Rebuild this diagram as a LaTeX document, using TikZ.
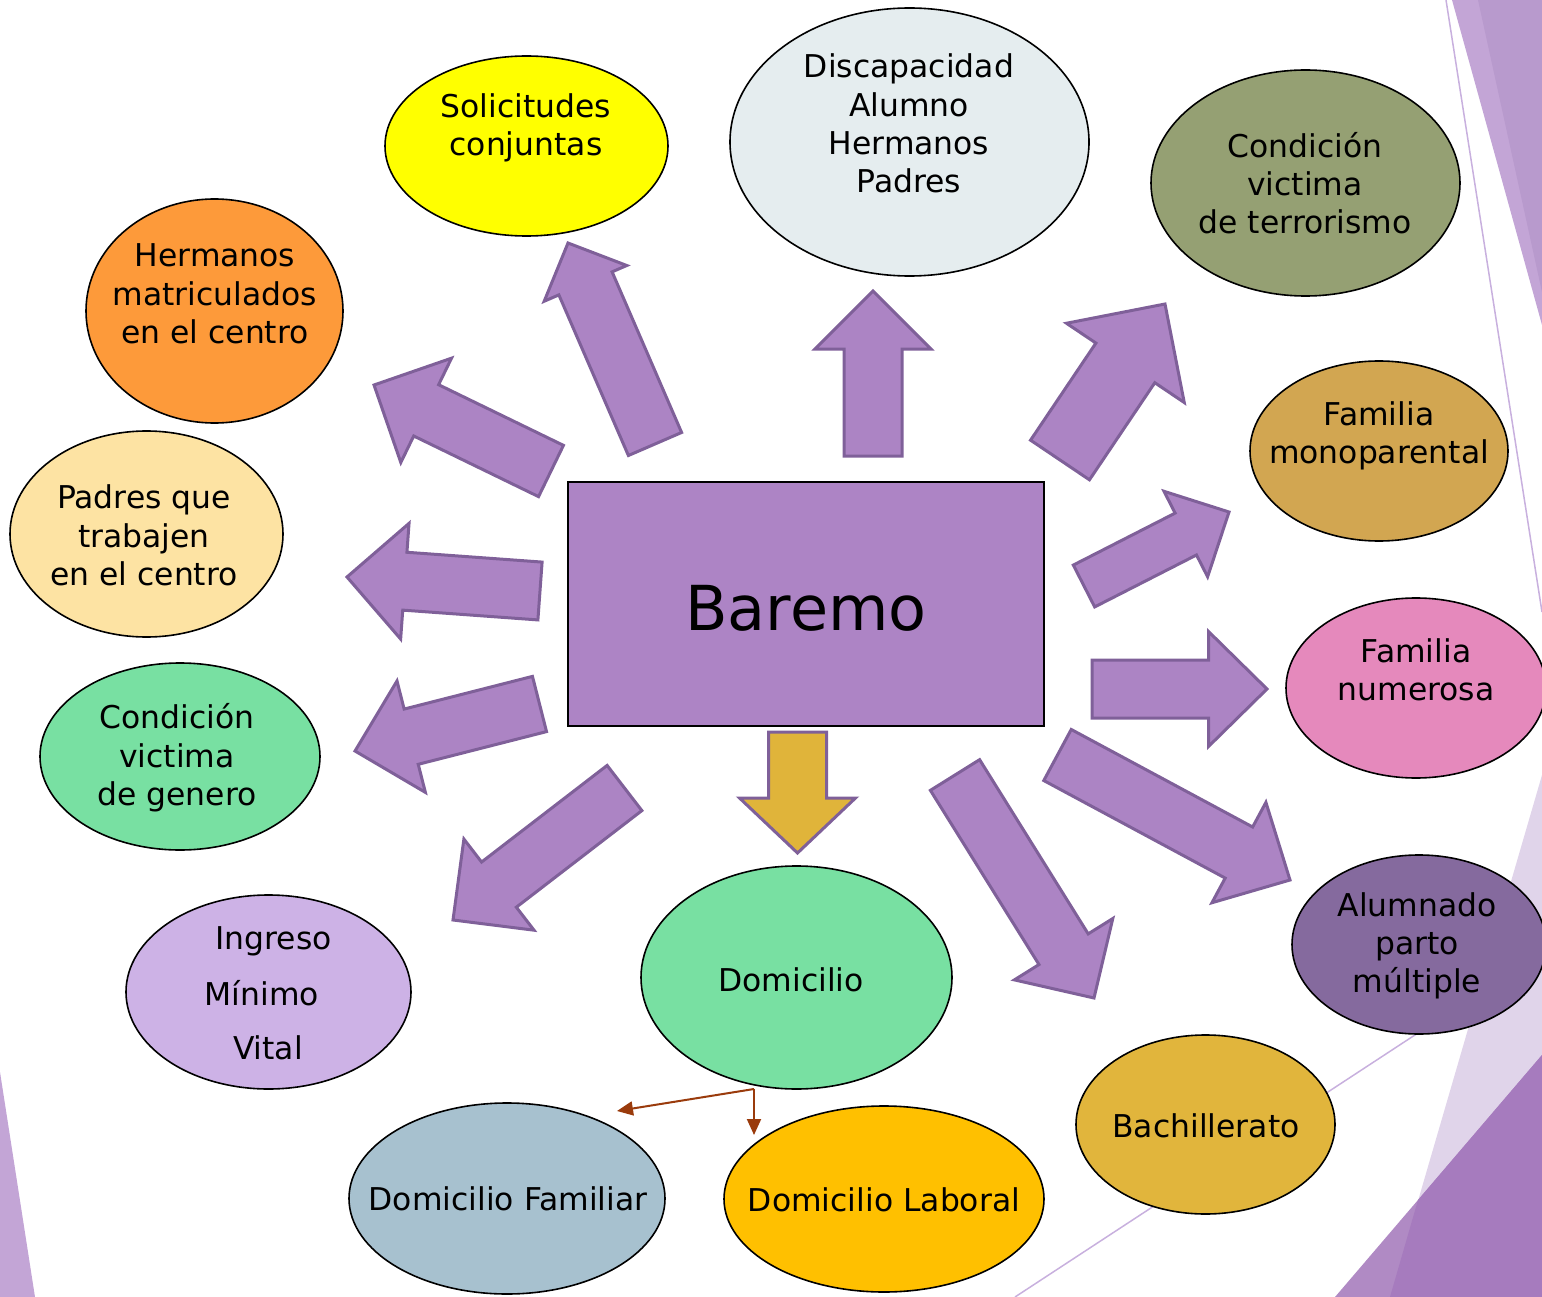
\documentclass[tikz,border=0pt]{standalone}
\usepackage{fontspec}
\setmainfont{DejaVu Sans}
\usetikzlibrary{calc,shapes.geometric,arrows.meta}
\definecolor{arrfill}{HTML}{AC84C4}
\definecolor{arrline}{HTML}{7F6099}
\definecolor{goldfill}{HTML}{E0B43A}
\definecolor{declight}{HTML}{C3A5D6}
\definecolor{decdark}{HTML}{B89ACD}
\definecolor{decpale}{HTML}{E0D4EA}
\definecolor{decmid}{HTML}{B08AC4}
\definecolor{decdeep}{HTML}{A67BBE}
\definecolor{decline}{HTML}{C8B0DE}
\definecolor{brownline}{HTML}{9A3B0C}
\definecolor{cYellow}{HTML}{FFFF00}
\definecolor{cDisc}{HTML}{E5EDEF}
\definecolor{cTerr}{HTML}{95A073}
\definecolor{cHerm}{HTML}{FD9A3A}
\definecolor{cMono}{HTML}{D2A651}
\definecolor{cPadres}{HTML}{FDE3A3}
\definecolor{cNum}{HTML}{E589BC}
\definecolor{cGreen}{HTML}{78E0A2}
\definecolor{cIng}{HTML}{CDB2E6}
\definecolor{cAlum}{HTML}{856A9E}
\definecolor{cFam}{HTML}{A7C1CF}
\definecolor{cLab}{HTML}{FFC000}
\definecolor{cBach}{HTML}{E1B53C}
\definecolor{cRect}{HTML}{AD84C5}
\newcommand\blockarrow[6][]{%
  \coordinate (ba-p) at ($(#3)!#6pt!(#2)$);
  \draw[#1] ($(#2)!#4pt!90:(#3)$) -- ($(ba-p)!#4pt!-90:(#2)$) -- ($(ba-p)!#5pt!-90:(#2)$) -- (#3) -- ($(ba-p)!#5pt!90:(#2)$) -- ($(ba-p)!#4pt!90:(#2)$) -- ($(#2)!#4pt!-90:(#3)$) -- cycle;
}
\tikzset{
  barrow/.style={fill=arrfill, draw=arrline, line width=3pt},
  garrow/.style={fill=goldfill, draw=arrline, line width=3pt},
  ell/.style={ellipse, draw=black, line width=1.6pt, inner sep=0pt},
  txt/.style={align=center, font=\fontsize{31.4}{38.3}\selectfont, inner sep=0pt},
  conn/.style={draw=brownline, line width=2pt, -{Triangle[length=16pt,width=14pt]}},
}
\begin{document}
\begin{tikzpicture}[x=1pt,y=-1pt]
\useasboundingbox (0,0) rectangle (1542,1297);
\clip (0,0) rectangle (1542,1297);
% background decorations
\fill[declight] (1452,0) -- (1542,0) -- (1542,325) -- cycle;
\fill[decdark] (1478,0) -- (1542,0) -- (1542,292) -- cycle;
\draw[decline, line width=1.5pt] (1446,0) -- (1542,612);
\fill[declight] (0,1072) -- (35,1297) -- (0,1297) -- cycle;
\fill[decpale] (1542,775) -- (1390,1297) -- (1542,1297) -- cycle;
\fill[decmid] (1542,1055) -- (1335,1297) -- (1542,1297) -- cycle;
\fill[decdeep] (1542,1055) -- (1418,1200) -- (1390,1297) -- (1542,1297) -- cycle;
\draw[decline, line width=1.5pt] (1015,1297) -- (1450,1012);

% block arrow coordinates
\coordinate (aDt) at (873,456);   \coordinate (aDh) at (873,291);
\coordinate (aSt) at (655,444);   \coordinate (aSh) at (568,243);
\coordinate (aHt) at (551,471);   \coordinate (aHh) at (374,385);
\coordinate (aPt) at (540,591);   \coordinate (aPh) at (347,577);
\coordinate (aGt) at (539.5,704); \coordinate (aGh) at (355,751);
\coordinate (aIt) at (624.5,788); \coordinate (aIh) at (453,920);
\coordinate (aOt) at (797.5,732); \coordinate (aOh) at (797.5,853);
\coordinate (aBt) at (955,775);   \coordinate (aBh) at (1094,998);
\coordinate (aAt) at (1057.5,755);\coordinate (aAh) at (1290,880);
\coordinate (aNt) at (1092,689);  \coordinate (aNh) at (1267,689);
\coordinate (aMt) at (1084,586);  \coordinate (aMh) at (1229,512);
\coordinate (aTt) at (1060,460);  \coordinate (aTh) at (1165,304);

\blockarrow[barrow]{aDt}{aDh}{29}{58}{58}
\blockarrow[barrow]{aSt}{aSh}{29}{45}{44}
\blockarrow[barrow]{aHt}{aHh}{28.5}{58}{58}
\blockarrow[barrow]{aPt}{aPh}{29}{58}{58}
\blockarrow[barrow]{aGt}{aGh}{28.5}{57.5}{58}
\blockarrow[barrow]{aIt}{aIh}{28.5}{57.5}{58}
\blockarrow[garrow]{aOt}{aOh}{29}{58}{55}
\blockarrow[barrow]{aBt}{aBh}{29}{58}{57.5}
\blockarrow[barrow]{aAt}{aAh}{29}{57}{58}
\blockarrow[barrow]{aNt}{aNh}{29}{57.5}{58.5}
\blockarrow[barrow]{aMt}{aMh}{23.5}{48}{48.5}
\blockarrow[barrow]{aTt}{aTh}{35.5}{71}{71}

% central rectangle
\node[draw=black, line width=2pt, fill=cRect, minimum width=476pt, minimum height=244pt, inner sep=0pt] (bar) at (806,604) {};
\node[inner sep=0pt, font=\fontsize{62}{70}\selectfont] (bar-t) at (806,608) {Baremo};

% ellipses
\node[ell, fill=cYellow, minimum width=283pt, minimum height=180pt] (sol) at (526.5,146) {};
\node[txt] (sol-t) at (526,128) {Solicitudes\\conjuntas};
\node[ell, fill=cDisc, minimum width=359pt, minimum height=268pt] (disc) at (909.5,142) {};
\node[txt] (disc-t) at (909,123.5) {Discapacidad\\Alumno\\Hermanos\\Padres};
\node[ell, fill=cTerr, minimum width=309pt, minimum height=226pt] (terr) at (1305.5,183) {};
\node[txt] (terr-t) at (1305,183) {Condición\\victima\\de terrorismo};
\node[ell, fill=cHerm, minimum width=257pt, minimum height=224pt] (herm) at (214.5,311) {};
\node[txt] (herm-t) at (215,294) {Hermanos\\matriculados\\en el centro};
\node[ell, fill=cMono, minimum width=258pt, minimum height=180pt] (mono) at (1379,451) {};
\node[txt] (mono-t) at (1379,435.5) {Familia\\monoparental};
\node[ell, fill=cPadres, minimum width=273pt, minimum height=206pt] (padres) at (146.5,534) {};
\node[txt] (padres-t) at (144,535.5) {Padres que\\trabajen\\en el centro};
\node[ell, fill=cNum, minimum width=260pt, minimum height=180pt] (num) at (1416,688) {};
\node[txt] (num-t) at (1416,670) {Familia\\numerosa};
\node[ell, fill=cGreen, minimum width=280pt, minimum height=187pt] (gen) at (180,756.5) {};
\node[txt] (gen-t) at (177,758) {Condición\\victima\\de genero};
\node[ell, fill=cIng, minimum width=285pt, minimum height=194pt] (ing) at (268.5,992) {};
\node[txt] (ing-1) at (273.5,941) {Ingreso};
\node[txt] (ing-2) at (262,993) {Mínimo};
\node[txt] (ing-3) at (268,1048) {Vital};
\node[ell, fill=cGreen, minimum width=311pt, minimum height=223pt] (dom) at (796.5,977.5) {};
\node[txt] (dom-t) at (791,980) {Domicilio};
\node[ell, fill=cAlum, minimum width=254pt, minimum height=179pt] (alum) at (1419,944.5) {};
\node[txt] (alum-t) at (1417,946) {Alumnado\\parto\\múltiple};
\node[ell, fill=cFam, minimum width=316pt, minimum height=191pt] (fam) at (507,1198.5) {};
\node[txt] (fam-t) at (508,1199) {Domicilio Familiar};
\node[ell, fill=cLab, minimum width=320pt, minimum height=186pt] (lab) at (884,1199) {};
\node[txt] (lab-t) at (884,1200) {Domicilio Laboral};
\node[ell, fill=cBach, minimum width=259pt, minimum height=179pt] (bach) at (1205.5,1124.5) {};
\node[txt] (bach-t) at (1206,1126) {Bachillerato};

% brown connectors from Domicilio
\coordinate (split) at (754,1089);
\coordinate (famtip) at (617,1111);
\coordinate (labtip) at (754,1135);
\draw[conn] (split) -- (famtip);
\draw[conn] (split) -- (labtip);
\end{tikzpicture}
\end{document}
